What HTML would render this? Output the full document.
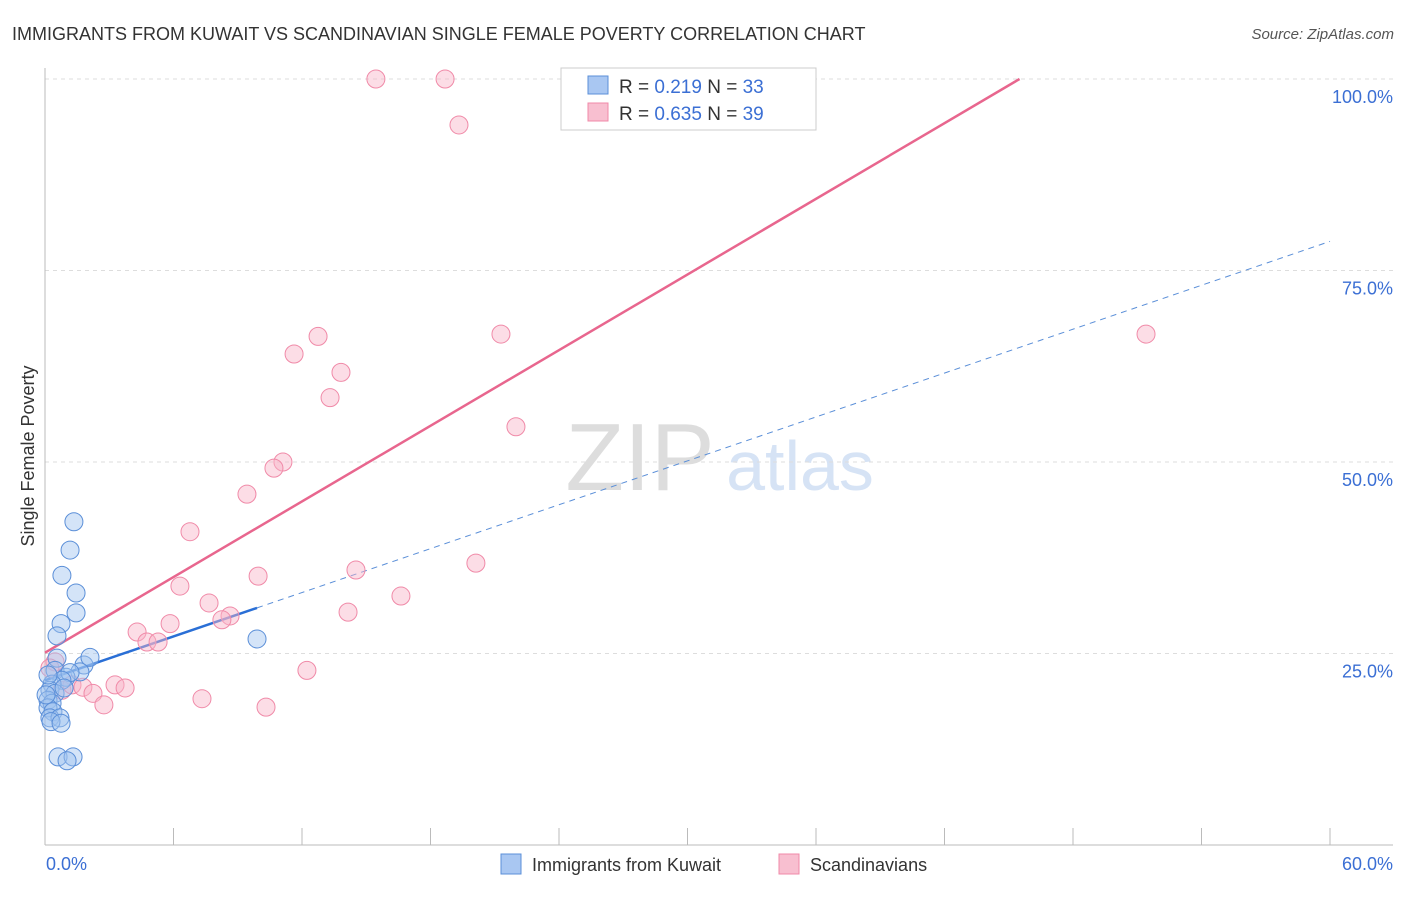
<!DOCTYPE html>
<html><head><meta charset="utf-8"><style>
body{margin:0;background:#fff;font-family:"Liberation Sans",sans-serif;}
svg text{font-family:"Liberation Sans",sans-serif;}
</style></head><body>
<svg id="chart" width="1406" height="892">
<text x="12" y="40" font-size="18" fill="#333">IMMIGRANTS FROM KUWAIT VS SCANDINAVIAN SINGLE FEMALE POVERTY CORRELATION CHART</text>
<text x="1394" y="39" font-size="15" fill="#555" text-anchor="end" font-style="italic">Source: ZipAtlas.com</text>
<text x="640" y="490" font-size="96" fill="#ddd" text-anchor="middle" font-family="Liberation Serif">ZIP</text>
<text x="800" y="490" font-size="70" fill="#d6e3f5" text-anchor="middle">atlas</text>
<g id="grid"></g>
<line x1="45" y1="68" x2="45" y2="845" stroke="#bbb"/>
<line x1="45" y1="845" x2="1393" y2="845" stroke="#bbb"/>
<g id="ticks"></g>
<text x="46" y="870" font-size="18" fill="#3b6fd4">0.0%</text>
<text x="1393" y="870" font-size="18" fill="#3b6fd4" text-anchor="end">60.0%</text>
<text transform="translate(34,456) rotate(-90)" font-size="18" fill="#333" text-anchor="middle">Single Female Poverty</text>
<g id="lines"></g>
<g id="points"></g>
<g>
<rect x="561" y="68" width="255" height="62" fill="#fff" stroke="#ccc"/>
<rect x="588" y="76" width="20" height="18" fill="#a9c7f2" stroke="#5b8fd8"/>
<text x="619" y="93" font-size="19" fill="#333">R = <tspan fill="#3b6fd4">0.219</tspan>   N = <tspan fill="#3b6fd4">33</tspan></text>
<rect x="588" y="103" width="20" height="18" fill="#f8bfd0" stroke="#f08aa8"/>
<text x="619" y="120" font-size="19" fill="#333">R = <tspan fill="#3b6fd4">0.635</tspan>   N = <tspan fill="#3b6fd4">39</tspan></text>
</g>
<g>
<rect x="501" y="854" width="20" height="20" fill="#a9c7f2" stroke="#5b8fd8"/>
<text x="532" y="871" font-size="18" fill="#333">Immigrants from Kuwait</text>
<rect x="779" y="854" width="20" height="20" fill="#f8bfd0" stroke="#f08aa8"/>
<text x="810" y="871" font-size="18" fill="#333">Scandinavians</text>
</g>
</svg>
<script>
const yTicks=[25,50,75,100];
const yTickLabels=["25.0%","50.0%","75.0%","100.0%"];
const xTicks=[0,6,12,18,24,30,36,42,48,54,60];
const blueX=[1.35,1.17,0.79,1.45,1.45,0.75,0.56,0.56,0.47,1.82,2.10,1.63,0.98,1.17,0.79,0.33,0.23,0.47,0.14,0.33,0.14,0.37,0.23,0.70,0.28,0.75,0.61,1.31,1.03,9.90,0.05,0.14,0.89];
const blueY=[42.2,38.5,35.2,32.9,30.3,28.9,27.3,24.4,22.8,23.5,24.5,22.6,21.9,22.5,21.5,21.0,20.2,19.8,18.9,18.5,17.9,17.4,16.6,16.6,16.1,15.9,11.5,11.5,11.0,26.9,19.6,22.2,20.5];
const pinkX=[15.45,18.68,19.33,12.75,21.29,51.41,11.63,13.82,13.31,21.99,11.11,10.69,9.43,6.77,9.95,14.52,20.12,6.30,16.62,7.66,14.15,8.64,8.26,5.84,4.30,4.76,5.28,12.23,0.47,0.79,1.26,1.77,2.24,3.27,3.74,2.75,7.33,10.32,0.23];
const pinkY=[100,100,94.0,66.4,66.7,66.7,64.1,61.7,58.4,54.6,50.0,49.2,45.8,40.9,35.1,35.9,36.8,33.8,32.5,31.6,30.4,29.9,29.4,28.9,27.8,26.5,26.5,22.8,23.9,20.2,20.9,20.6,19.8,20.9,20.5,18.3,19.1,18.0,23.1];
const blueTrend=[21.5,0.955];
const pinkTrend=[25.1,1.646];
const NS="http://www.w3.org/2000/svg";
const sx=v=>45+v*(1285/60);
const sy=v=>845-v*7.66;
function mk(tag,attrs,parent){const e=document.createElementNS(NS,tag);for(const k in attrs)e.setAttribute(k,attrs[k]);document.getElementById(parent).appendChild(e);return e;}
yTicks.forEach((t,i)=>{
 const g=mk('line',{x1:45,x2:1393,y1:sy(t),y2:sy(t),stroke:'#ddd','stroke-dasharray':'4,4'},'grid');
 
 
 const l=mk('text',{x:1393,y:sy(t)+24,'font-size':18,fill:'#3b6fd4','text-anchor':'end'},'grid');
 l.textContent=yTickLabels[i];
 
 
});
xTicks.forEach(t=>{
 const e=mk('line',{x1:sx(t),x2:sx(t),y1:828,y2:845,stroke:'#bbb'},'ticks');
 
 
});
// trend lines
let pxEnd=(100-pinkTrend[0])/pinkTrend[1];
const pl=mk('line',{x1:sx(0),y1:sy(pinkTrend[0]),x2:sx(pxEnd),y2:sy(100),stroke:'#e8668e','stroke-width':2.5},'lines');


const bmax=Math.max(...blueX);
const bd=mk('line',{x1:sx(bmax),y1:sy(blueTrend[0]+blueTrend[1]*bmax),x2:sx(60),y2:sy(blueTrend[0]+blueTrend[1]*60),stroke:'#5b8fd8','stroke-width':1,'stroke-dasharray':'6,5'},'lines');


const bl=mk('line',{x1:sx(0),y1:sy(blueTrend[0]),x2:sx(bmax),y2:sy(blueTrend[0]+blueTrend[1]*bmax),stroke:'#2a6fd6','stroke-width':2.5},'lines');


pinkX.forEach((x,i)=>{
 const c=mk('circle',{cx:sx(x),cy:sy(pinkY[i]),r:9,fill:'rgba(248,180,200,0.45)',stroke:'#f08aa8','stroke-width':1},'points');
 
 
});
blueX.forEach((x,i)=>{
 const c=mk('circle',{cx:sx(x),cy:sy(blueY[i]),r:9,fill:'rgba(160,195,240,0.45)',stroke:'#5b8fd8','stroke-width':1},'points');
 
 
});
</script>
</body></html>
